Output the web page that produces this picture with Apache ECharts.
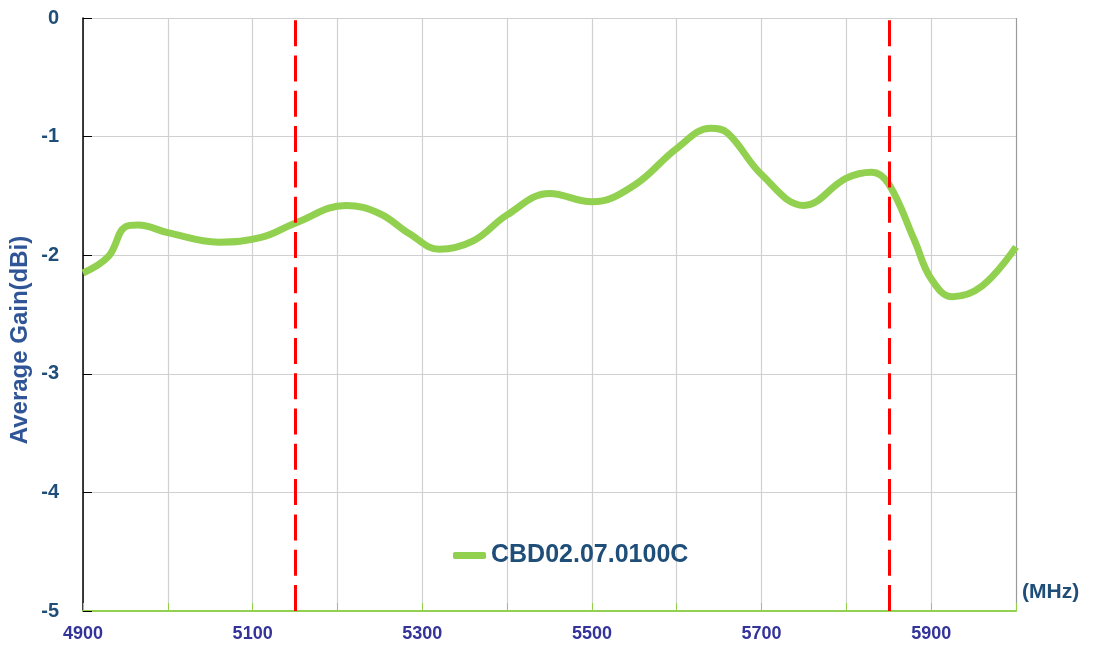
<!DOCTYPE html>
<html><head><meta charset="utf-8">
<script src="https://cdn.jsdelivr.net/npm/echarts@6/dist/echarts.min.js"></script>
<style>html,body{margin:0;padding:0;background:#fff}#c{width:1094px;height:653px}</style>
</head><body><div id="c"></div>
<script>
const freqs = [4900,4930,4950,4965,5000,5060,5110,5150,5210,5250,5285,5320,5360,5400,5450,5500,5550,5600,5640,5660,5700,5750,5800,5830,5850,5880,5900,5925,5960,6000];
const gains = [-2.15,-2.01,-1.76,-1.745,-1.81,-1.89,-1.85,-1.73,-1.58,-1.65,-1.82,-1.95,-1.88,-1.66,-1.48,-1.55,-1.41,-1.10,-0.93,-0.97,-1.32,-1.58,-1.35,-1.30,-1.40,-1.87,-2.20,-2.35,-2.26,-1.93];
const bandEdges = [5150, 5850];
const seriesName = 'CBD02.07.0100C';
const yTitle = 'Average Gain(dBi)';
const xUnit = '(MHz)';

const chart = echarts.init(document.getElementById('c'));
const gridColors = Array.from({length: 12}, (_, i) => i === 11 ? '#9a9a9a' : '#d0d0d0');
chart.setOption({
  animation: false,
  backgroundColor: '#fff',
  grid: {left: 83, right: 78, top: 18, bottom: 42, outerBoundsMode: 'none', containLabel: false},
  legend: {
    left: 448, top: 538, itemWidth: 33, itemHeight: 7, icon: 'roundRect',
    textStyle: {fontFamily: 'Liberation Sans', fontWeight: 'bold', fontSize: 25, color: '#1F4E79'},
    data: [seriesName]
  },
  graphic: [{
    type: 'text', x: 20, y: 340, rotation: Math.PI / 2, silent: true,
    style: {text: yTitle, fontFamily: 'Liberation Sans', fontWeight: 'bold', fontSize: 24, fill: '#2F5597', align: 'center', verticalAlign: 'middle'}
  }],
  xAxis: {
    type: 'value', min: 4900, max: 6000, interval: 100,
    name: xUnit, nameLocation: 'end', nameGap: 6,
    nameTextStyle: {fontFamily: 'Liberation Sans', fontWeight: 'bold', fontSize: 21, color: '#1F4E79', align: 'left', verticalAlign: 'bottom', padding: [0,0,8,0]},
    axisLine: {onZero: false, lineStyle: {color: '#92D050', width: 2}},
    axisTick: {show: true, inside: true, length: 8, lineStyle: {color: '#92D050', width: 1}},
    splitLine: {show: true, lineStyle: {color: gridColors, width: 1.2}},
    axisLabel: {
      margin: 14, fontFamily: 'Liberation Sans', fontWeight: 'bold', fontSize: 18, color: '#333399',
      formatter: v => ((v - 4900) % 200 === 0 && v < 6000) ? String(v) : ''
    }
  },
  yAxis: {
    type: 'value', min: -5, max: 0, interval: 1,
    axisLine: {show: true, onZero: false, lineStyle: {color: '#000', width: 1.5}},
    axisTick: {show: true, inside: true, length: 9, lineStyle: {color: '#000'}},
    splitLine: {lineStyle: {color: '#d0d0d0', width: 1.2}},
    axisLabel: {margin: 24, fontFamily: 'Liberation Sans', fontWeight: 'bold', fontSize: 20, color: '#1F4E79'}
  },
  series: [{
    name: seriesName, type: 'line', smooth: 0.4, showSymbol: false, symbol: 'none',
    data: freqs.map((f, i) => [f, gains[i]]),
    lineStyle: {color: '#92D050', width: 7},
    itemStyle: {color: '#92D050'},
    z: 3,
    markLine: {
      silent: true, symbol: 'none', label: {show: false},
      lineStyle: {color: '#FF0000', width: 3, type: [26, 9.3]},
      data: bandEdges.map(v => ({xAxis: v}))
    }
  }]
});
</script></body></html>
